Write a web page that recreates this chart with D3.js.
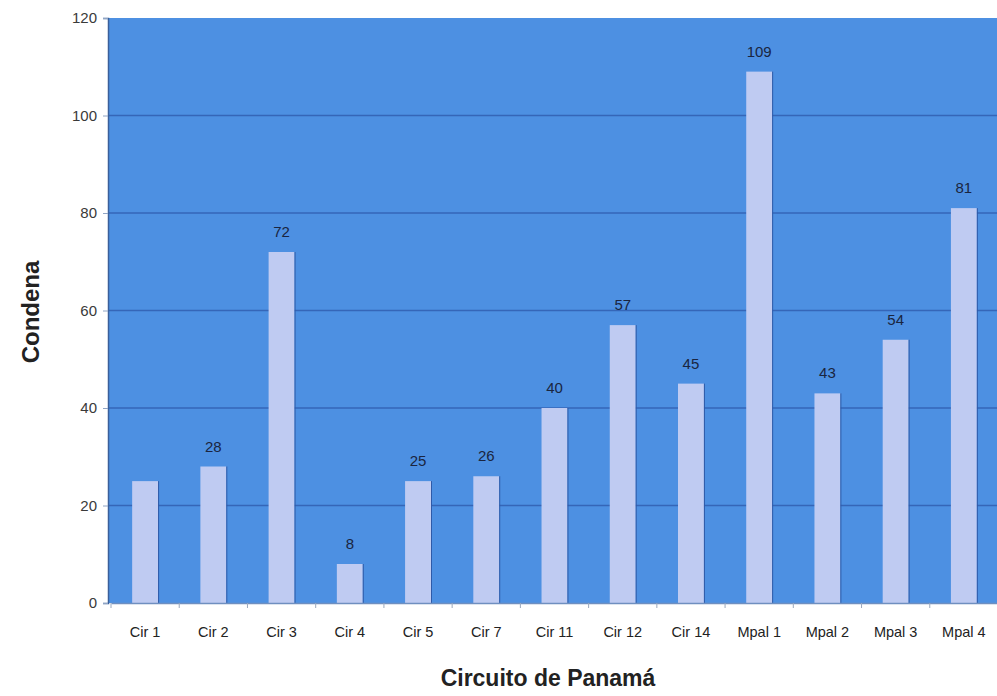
<!DOCTYPE html>
<html>
<head>
<meta charset="utf-8">
<script src="https://cdn.jsdelivr.net/npm/d3@7"></script>
<style>
  html, body { margin: 0; padding: 0; background: #ffffff; }
  svg { display: block; font-family: "Liberation Sans", Arial, sans-serif; }
</style>
</head>
<body>
<svg id="chart" width="997" height="696"></svg>
<script>
const categories = ["Cir 1", "Cir 2", "Cir 3", "Cir 4", "Cir 5", "Cir 7", "Cir 11", "Cir 12", "Cir 14", "Mpal 1", "Mpal 2", "Mpal 3", "Mpal 4"];
const values = [25, 28, 72, 8, 25, 26, 40, 57, 45, 109, 43, 54, 81];
const labelShown = [false, true, true, true, true, true, true, true, true, true, true, true, true];
const yTicks = [0, 20, 40, 60, 80, 100, 120];
const xTitle = "Circuito de Panamá";
const yTitle = "Condena";

const svg = d3.select("#chart");
const plot = { left: 108, right: 997, top: 18, bottom: 603 };

const x = d3.scaleBand()
  .domain(categories)
  .range([plot.left + 3, plot.right + 1])
  .paddingInner(0.62)
  .paddingOuter(0.31);

const y = d3.scaleLinear()
  .domain([0, 120])
  .range([plot.bottom, plot.top]);

// background
svg.append("rect")
  .attr("x", plot.left).attr("y", plot.top)
  .attr("width", plot.right - plot.left).attr("height", plot.bottom - plot.top)
  .attr("fill", "#4d90e2");

// gridlines
svg.append("g")
  .selectAll("line")
  .data(yTicks.filter(d => d > 0 && d < 120))
  .join("line")
  .attr("x1", plot.left).attr("x2", plot.right)
  .attr("y1", d => y(d)).attr("y2", d => y(d))
  .attr("stroke", "#3566b8")
  .attr("stroke-width", 1.5);

// bars
svg.append("g")
  .selectAll("rect")
  .data(values)
  .join("rect")
  .attr("x", (d, i) => x(categories[i]))
  .attr("y", d => y(d))
  .attr("width", x.bandwidth())
  .attr("height", d => y(0) - y(d))
  .attr("fill", "#bfcbf2");

// bar right shadow edge
svg.append("g")
  .selectAll("line")
  .data(values)
  .join("line")
  .attr("x1", (d, i) => x(categories[i]) + x.bandwidth() + 0.5)
  .attr("x2", (d, i) => x(categories[i]) + x.bandwidth() + 0.5)
  .attr("y1", d => y(d))
  .attr("y2", y(0))
  .attr("stroke", "#2e5aa8")
  .attr("stroke-width", 1);

// value labels
svg.append("g")
  .selectAll("text")
  .data(values.map((v, i) => ({ v, i })).filter(d => labelShown[d.i]))
  .join("text")
  .attr("x", d => x(categories[d.i]) + x.bandwidth() / 2)
  .attr("y", d => y(d.v) - 15)
  .attr("text-anchor", "middle")
  .attr("font-size", 15)
  .attr("fill", "#1a2540")
  .text(d => d.v);

// y axis
const yAxis = d3.axisLeft(y).tickValues(yTicks).tickSize(5).tickPadding(6);
const yg = svg.append("g").attr("transform", `translate(${plot.left},0)`).call(yAxis);
yg.select(".domain").attr("stroke", "#3a5f9a").attr("stroke-width", 1.5);
yg.selectAll(".tick line").attr("stroke", "#8fa4c4");
yg.selectAll(".tick text").attr("font-size", 15).attr("fill", "#3a3a3a").attr("font-family", "Liberation Sans, Arial, sans-serif");

// x axis
const xAxis = d3.axisBottom(x).tickSize(0).tickPadding(24);
const xg = svg.append("g").attr("transform", `translate(0,${plot.bottom})`).call(xAxis);
xg.select(".domain").attr("stroke", "#6f8fc0").attr("stroke-width", 1.5);
xg.selectAll(".tick text").attr("font-size", 14.5).attr("fill", "#222").attr("font-family", "Liberation Sans, Arial, sans-serif");

// x tick marks at band boundaries
const step = x.step();
const boundaries = categories.map(c => x(c) - (step - x.bandwidth()) / 2);
svg.append("g")
  .selectAll("line")
  .data(boundaries)
  .join("line")
  .attr("x1", d => d).attr("x2", d => d)
  .attr("y1", plot.bottom).attr("y2", plot.bottom + 5)
  .attr("stroke", "#9aa8bd");

// axis titles
svg.append("text")
  .attr("x", 548).attr("y", 686)
  .attr("text-anchor", "middle")
  .attr("font-size", 23).attr("font-weight", "bold")
  .attr("fill", "#222")
  .text(xTitle);

svg.append("text")
  .attr("transform", "translate(39,312) rotate(-90)")
  .attr("text-anchor", "middle")
  .attr("font-size", 24).attr("font-weight", "bold")
  .attr("fill", "#222")
  .text(yTitle);
</script>
</body>
</html>
